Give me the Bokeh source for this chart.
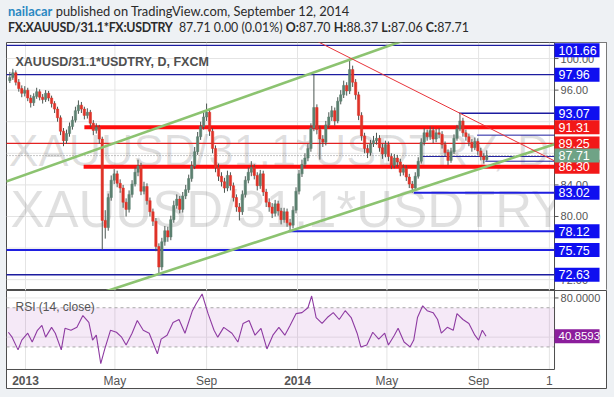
from bokeh.plotting import figure
from bokeh.models import Range1d, Grid, Div, ColumnDataSource, GlobalInlineStyleSheet
from bokeh.layouts import column
from bokeh.embed import file_html
from bokeh.resources import INLINE
from bokeh.core.properties import value

BG = "#eef1f4"
FONT = "Liberation Sans"

# ---------------- data ----------------
# x = calendar days since 2013-01-01; one candle every 4 days
bar_day = list(range(-21, 620, 4))
bar_close = [97.6, 98.2, 97.0, 96.2, 95.6, 96.0, 95.0, 94.4, 95.2, 95.8,
             95.1, 94.8, 95.6, 95.0, 94.3, 93.6, 92.5, 90.8, 89.6, 90.5,
             91.4, 92.2, 93.4, 94.1, 93.6, 92.8, 93.2, 91.8, 90.9, 91.3,
             89.8, 79.5, 78.6, 82.4, 84.6, 85.4, 84.2, 83.6, 81.8, 80.9,
             82.8, 84.1, 85.6, 86.4, 83.2, 83.8, 82.0, 80.6, 79.4, 76.2,
             73.6, 76.8, 78.2, 77.4, 79.6, 81.4, 82.2, 80.9, 82.6, 83.4,
             84.8, 86.4, 88.2, 90.1, 91.4, 92.6, 93.2, 90.8, 88.6, 86.2,
             85.1, 84.4, 83.6, 85.2, 83.9, 82.4, 81.2, 80.6, 82.8, 84.6,
             85.6, 86.2, 85.2, 83.9, 85.4, 83.1, 81.8, 81.2, 80.4, 81.6,
             80.7, 79.6, 80.6, 79.2, 78.9, 80.8, 83.2, 85.4, 86.6, 87.4,
             88.6, 91.2, 93.8, 91.0, 89.8, 89.4, 91.6, 92.6, 93.4, 92.1,
             94.6, 95.4, 96.6, 95.9, 98.6, 97.0, 95.4, 92.8, 90.2, 88.6,
             88.1, 89.2, 89.6, 89.9, 88.7, 87.9, 89.1, 87.6, 86.5, 87.4,
             86.9, 85.6, 86.1, 85.0, 84.1, 83.6, 85.1, 87.0, 89.4, 90.6,
             90.1, 90.9, 89.8, 90.6, 90.4, 89.1, 88.1, 87.1, 88.2, 89.9,
             91.1, 92.1, 90.6, 90.1, 89.4, 88.7, 89.5, 88.3, 87.6, 87.2,
             87.71]
bar_high = [98.3, 98.7, 98.5, 97.4, 96.6, 96.5, 96.3, 95.4, 95.6, 96.3,
            96.1, 95.5, 96.0, 95.9, 95.3, 94.6, 93.9, 92.8, 91.2, 91.0,
            91.9, 92.7, 93.9, 94.7, 94.5, 93.9, 93.7, 93.5, 92.2, 91.8,
            91.6, 90.1, 80.8, 82.9, 85.2, 86.0, 85.8, 84.7, 84.0, 82.3,
            83.3, 84.6, 86.2, 87.2, 86.8, 84.4, 84.2, 82.4, 81.0, 79.8,
            76.6, 77.3, 78.8, 78.7, 80.1, 82.0, 82.8, 82.6, 83.1, 84.0,
            85.3, 87.0, 88.8, 90.7, 92.0, 93.2, 94.3, 93.6, 91.2, 89.0,
            86.7, 85.6, 84.9, 85.8, 85.6, 84.3, 82.8, 81.7, 83.3, 85.1,
            86.2, 87.0, 86.6, 85.6, 85.9, 85.8, 83.5, 82.3, 81.7, 82.1,
            82.0, 81.1, 81.1, 81.0, 79.7, 81.3, 83.7, 85.9, 87.2, 88.0,
            89.2, 91.8, 98.0, 94.2, 91.5, 90.3, 92.1, 93.2, 94.0, 93.8,
            95.1, 96.0, 97.2, 97.0, 100.0, 99.1, 97.4, 95.8, 93.2, 90.6,
            89.1, 89.7, 90.2, 90.6, 90.3, 89.2, 89.6, 89.5, 88.0, 87.9,
            87.8, 87.3, 86.6, 86.5, 85.4, 84.5, 85.6, 87.5, 89.9, 91.2,
            91.0, 91.4, 91.3, 91.1, 91.2, 90.8, 89.5, 88.5, 88.7, 90.4,
            91.6, 93.1, 92.5, 91.0, 90.5, 89.8, 90.0, 89.9, 88.7, 88.0,
            88.37]
bar_low = [96.9, 97.3, 96.6, 95.8, 95.1, 95.2, 94.6, 93.8, 94.0, 94.9,
           94.7, 94.3, 94.5, 94.6, 93.8, 93.1, 92.0, 90.3, 88.9, 89.2,
           90.1, 91.0, 91.9, 93.0, 93.1, 92.3, 92.4, 91.3, 90.3, 90.5,
           89.2, 75.8, 77.2, 78.2, 82.0, 84.1, 83.7, 83.0, 81.1, 80.0,
           80.5, 82.4, 83.8, 85.1, 82.7, 82.8, 81.5, 80.0, 78.8, 75.6,
           72.6, 73.2, 76.3, 76.8, 77.0, 79.2, 81.0, 80.4, 80.5, 82.2,
           83.0, 84.4, 86.0, 87.8, 89.7, 91.0, 92.1, 90.2, 88.0, 85.6,
           84.5, 83.8, 83.0, 83.2, 83.3, 81.9, 80.6, 79.5, 80.2, 82.4,
           84.2, 85.1, 84.7, 83.3, 83.5, 82.6, 81.2, 80.6, 79.8, 80.0,
           80.1, 79.0, 79.2, 78.7, 78.1, 78.5, 80.4, 82.8, 85.0, 86.2,
           87.0, 88.2, 90.8, 90.4, 87.2, 88.8, 89.0, 91.2, 92.1, 91.5,
           91.8, 94.2, 95.0, 95.3, 95.5, 96.4, 94.8, 92.2, 89.6, 88.0,
           87.4, 87.7, 88.8, 89.1, 88.2, 87.3, 87.5, 87.0, 86.0, 86.1,
           86.3, 85.1, 85.2, 84.5, 83.6, 83.0, 83.3, 84.8, 86.7, 89.0,
           89.6, 89.7, 89.3, 89.4, 89.9, 88.6, 87.6, 86.5, 86.8, 87.9,
           89.6, 90.8, 90.1, 89.6, 88.9, 88.2, 88.4, 87.8, 87.1, 86.7,
           87.06]
first_open = 97.2
bar_open = [first_open] + bar_close[:-1]

# RSI(14)
rsi_day = [-23, -18, -10, -5, 3, 9, 16, 22, 27, 35, 40, 48, 53, 61, 69, 77, 85, 90,
           95, 101, 106, 114, 122, 129, 135, 143, 150, 158, 166, 177, 182, 190, 198,
           206, 214, 224, 229, 237, 245, 253, 258, 266, 277, 285, 292, 300, 308, 316,
           324, 332, 340, 348, 355, 363, 371, 379, 384, 390, 398, 405, 413, 421, 429,
           437, 445, 450, 458, 466, 474, 482, 487, 495, 500, 508, 516, 521, 526, 533,
           539, 547, 553, 558, 566, 574, 579, 587, 595, 603, 608, 613, 618]
rsi_val = [45, 40, 27, 37, 44, 35, 47, 52, 40, 50, 44, 27, 49, 47, 50, 62, 55, 37,
           42, 13, 27, 47, 45, 40, 32, 44, 57, 47, 44, 23, 38, 42, 55,
           58, 44, 67, 74, 84, 64, 47, 40, 50, 44, 35, 54, 57, 42, 49,
           28, 42, 50, 42, 52, 64, 65, 70, 82, 60, 54, 60, 65, 58, 67,
           60, 44, 30, 32, 45, 38, 44, 32, 42, 49, 35, 30, 37, 60, 72,
           67, 65, 58, 44, 50, 47, 64, 58, 54, 42, 37, 47, 40.86]

# horizontal levels drawn on the chart (price, first day)
lvl_price = [101.66, 97.96, 93.07, 91.31, 89.25, 86.30, 83.02, 78.12, 75.75, 72.63, 90.30, 87.60, 87.00]
lvl_start = [-26, -26, 582, 79, -26, 78, 521, 353, -26, -26, 606, 533, 617]
lvl_color = ["#1c1ca0", "#1c1ca0", "#1c1ca0", "#ff0d0d", "#e32222", "#ff0d0d", "#1f1fe0",
             "#1f1fe0", "#1f1fe0", "#1c1ca0", "#1c1ca0", "#1c1ca0", "#1c1ca0"]
lvl_width = [1.3, 1.3, 1.3, 4, 1.2, 4, 2, 2, 2, 1.6, 1, 1, 1]

# trend lines (day, price)
up_green_day, up_green_px = [-26, 709.9], [84.43, 109.05]
lo_green_day, lo_green_px = [100, 709.9], [70.28, 89.15]
red_diag_day, red_diag_px = [382, 709.9], [102.62, 87.04]

last_price = 87.71
last_rsi = 40.8593

# price-scale tags
tag_val = [101.66, 97.96, 93.07, 91.31, 89.25, 86.30, 87.71, 83.02, 78.12, 75.75, 72.63]
tag_col = ["#0f0ff0", "#0f0ff0", "#0f0ff0", "#f21818", "#f21818", "#f21818", "#6fa386",
           "#0f0ff0", "#0f0ff0", "#0f0ff0", "#0f0ff0"]

price_ticks = [72, 76, 80, 84, 88, 92, 96, 100]
rsi_ticks = [40, 80]
time_ticks = [0, 120, 243, 365, 485, 608, 703]
time_labels = ["2013", "May", "Sep", "2014", "May", "Sep", "1"]
time_bold = [True, False, False, True, False, False, False]

# ---------------- scale geometry (data units) ----------------
PXD = 0.7452                     # pixels per day
XMIN = -25.5                     # left pane edge
XAX = 709.9                      # price-scale line
XEND = XMIN + 600 / PXD          # right edge of the price-scale box
YMIN, YMAX = 70.63, 102.03
TAG_TOP = 101.05                 # keep the top tag inside the pane
RMAX, RBOT = 87.6, 7.0           # RSI pane top / bottom
RMIN = RMAX - 99 / 0.98          # includes time-scale strip
TIME_Y = RMAX - 90 / 0.98

def dx(px):
    return px / PXD

# ---------------- header ----------------
header = Div(text=(
    '<div style="font-family:Lato,\'Liberation Sans\',sans-serif;color:#2b2b2b;'
    'line-height:16px;padding:3px 0 0 8px;margin:0;white-space:nowrap">'
    '<span style="font-size:12.9px"><span style="color:#2a88c2;font-weight:bold">nailacar</span> '
    'published on TradingView.com, September 12, 2014</span><br>'
    '<span style="font-size:12.4px"><b style="letter-spacing:-0.3px">FX:XAUUSD/31.1*FX:USDTRY</b>&nbsp; '
    '87.71 0.00 (0.01%) <b>O:</b>87.70 <b>H:</b>88.37 <b>L:</b>87.06 <b>C:</b>87.71</span></div>'),
    width=614, height=42, margin=0, styles={"background-color": BG})


def pane(h, y0, y1):
    f = figure(width=614, height=h, x_range=Range1d(XMIN, XEND), y_range=Range1d(y0, y1),
               output_backend="svg", toolbar_location=None, x_axis_location=None,
               y_axis_location=None, min_border_left=6, min_border_right=8,
               min_border_top=0, min_border_bottom=0, background_fill_color="white",
               border_fill_color=BG, outline_line_color="#4d4d4d", margin=0)
    f.center = [c for c in f.center if not isinstance(c, Grid)]
    return f


def tags(f, vals, cols, texts, fs="12.5px"):
    f.rect(x=[XAX + dx(22.5)] * len(vals), y=vals, width=45, height=14, width_units="screen",
           height_units="screen", fill_color=cols, line_color=None)
    f.text(x=[XAX + dx(4)] * len(vals), y=vals, text=texts, text_font=value(FONT),
           text_font_size=fs, text_color="white", text_baseline="middle", text_align="left")


# ---------------- main price pane ----------------
p = pane(248, YMIN, YMAX)
# grid
p.segment(x0=time_ticks, x1=time_ticks, y0=[YMIN] * len(time_ticks), y1=[YMAX] * len(time_ticks),
          line_color="#e4e4e4", line_width=1)
p.segment(x0=[XMIN] * len(price_ticks), x1=[XAX] * len(price_ticks), y0=price_ticks, y1=price_ticks,
          line_color="#e4e4e4", line_width=1)

# watermark
p.text(x=[XMIN + dx(2)], y=[88.3], text=["XAUUSD/31.1*USDTRY, D"], text_font=value(FONT),
       text_font_size="45px", text_color="#000000", text_alpha=0.12, text_baseline="alphabetic")
p.text(x=[XMIN + dx(4)], y=[80.9], text=["XAUUSD/31.1*USDTRY"], text_font=value(FONT),
       text_font_size="51px", text_color="#000000", text_alpha=0.12, text_baseline="alphabetic")

# levels
p.segment(x0=lvl_start, x1=[XAX] * len(lvl_start), y0=lvl_price, y1=lvl_price,
          line_color=lvl_color, line_width=lvl_width)
p.segment(x0=[XMIN], x1=[XAX], y0=[last_price], y1=[last_price], line_color="#8a8a8a",
          line_dash="1 2", line_width=1)

# candles
up = [c >= o for o, c in zip(bar_open, bar_close)]
src = ColumnDataSource(dict(
    x=bar_day, top=[max(o, c) for o, c in zip(bar_open, bar_close)],
    bottom=[min(o, c) for o, c in zip(bar_open, bar_close)],
    high=bar_high, low=bar_low,
    col=["#5c8070" if u else "#df3328" for u in up]))
p.segment(x0="x", x1="x", y0="low", y1="high", source=src, line_color="#4b5651", line_width=1)
p.vbar(x="x", width=3.2, top="top", bottom="bottom", source=src, fill_color="col",
       line_color="col", line_width=0.5)

# trend lines
p.line(up_green_day, up_green_px, line_color="#8cc370", line_width=2.6)
p.line(lo_green_day, lo_green_px, line_color="#8cc370", line_width=2.6)
p.line(red_diag_day, red_diag_px, line_color="#e8333a", line_width=1)

p.text(x=[XMIN + dx(9)], y=[99.62], text=["XAUUSD/31.1*USDTRY, D, FXCM"], text_font=value(FONT),
       text_font_size="12.5px", text_font_style="bold", text_color="#505050", text_baseline="middle")

# price scale
p.quad(left=[XAX], right=[XEND], bottom=[YMIN], top=[YMAX], fill_color="white", line_color=None)
p.segment(x0=[XAX], x1=[XAX], y0=[YMIN], y1=[YMAX], line_color="#4d4d4d", line_width=1)
p.segment(x0=[XAX] * len(price_ticks), x1=[XAX + dx(4)] * len(price_ticks), y0=price_ticks,
          y1=price_ticks, line_color="#555555", line_width=1)
p.text(x=[XAX + dx(6)] * len(price_ticks), y=price_ticks, text=[f"{t:.2f}" for t in price_ticks],
       text_font=value(FONT), text_font_size="11px", text_color="#555555",
       text_baseline="middle", text_align="left")
tags(p, [min(v, TAG_TOP) for v in tag_val], tag_col, [f"{v:.2f}" for v in tag_val])

# ---------------- RSI pane + time scale ----------------
r = pane(99, RMIN, RMAX)
r.segment(x0=time_ticks, x1=time_ticks, y0=[RBOT] * len(time_ticks), y1=[RMAX] * len(time_ticks),
          line_color="#e4e4e4", line_width=1)
r.segment(x0=[XMIN] * len(rsi_ticks), x1=[XAX] * len(rsi_ticks), y0=rsi_ticks, y1=rsi_ticks,
          line_color="#e8e8e8", line_width=1)
r.quad(left=[XMIN], right=[XAX], bottom=[30], top=[70], fill_color="#9c27b0", fill_alpha=0.1,
       line_color=None)
r.segment(x0=[XMIN, XMIN], x1=[XAX, XAX], y0=[70, 30], y1=[70, 30], line_color="#a8a8a8",
          line_dash="3 3", line_width=1)
r.line(rsi_day, rsi_val, line_color="#8e3ba2", line_width=1.1)
r.text(x=[XMIN + dx(9)], y=[70.3], text=["RSI (14, close)"], text_font=value(FONT),
       text_font_size="12px", text_color="#555555", text_baseline="middle")

# pane border / price scale for RSI
r.segment(x0=[XMIN], x1=[XAX], y0=[RBOT], y1=[RBOT], line_color="#4d4d4d", line_width=1)
r.segment(x0=[XAX], x1=[XAX], y0=[RBOT], y1=[RMAX], line_color="#4d4d4d", line_width=1)
r.segment(x0=[XAX] * len(rsi_ticks), x1=[XAX + dx(4)] * len(rsi_ticks), y0=rsi_ticks,
          y1=rsi_ticks, line_color="#555555", line_width=1)
r.text(x=[XAX + dx(6)] * len(rsi_ticks), y=rsi_ticks, text=[f"{t:.4f}" for t in rsi_ticks],
       text_font=value(FONT), text_font_size="11px", text_color="#555555",
       text_baseline="middle", text_align="left")
tags(r, [last_rsi], ["#8b1d9c"], [f"{last_rsi:.4f}"], fs="11.5px")

# time scale labels
norm = [(t, l) for t, l, b in zip(time_ticks, time_labels, time_bold) if not b]
bold = [(t, l) for t, l, b in zip(time_ticks, time_labels, time_bold) if b]
r.text(x=[t for t, _ in norm], y=[TIME_Y] * len(norm), text=[l for _, l in norm],
       text_font=value(FONT), text_font_size="12px", text_color="#555555",
       text_baseline="middle", text_align="center")
r.text(x=[t for t, _ in bold], y=[TIME_Y] * len(bold), text=[l for _, l in bold],
       text_font=value(FONT), text_font_size="12px", text_font_style="bold",
       text_color="#555555", text_baseline="middle", text_align="center")

page_css = GlobalInlineStyleSheet(css="html, body { margin: 0; padding: 0; background: #eef1f4; overflow: hidden; }")
root = column(header, p, r, width=614, height=397, spacing=0,
              styles={"background-color": BG}, stylesheets=[page_css])

open("out.html", "w").write(file_html(root, INLINE))
